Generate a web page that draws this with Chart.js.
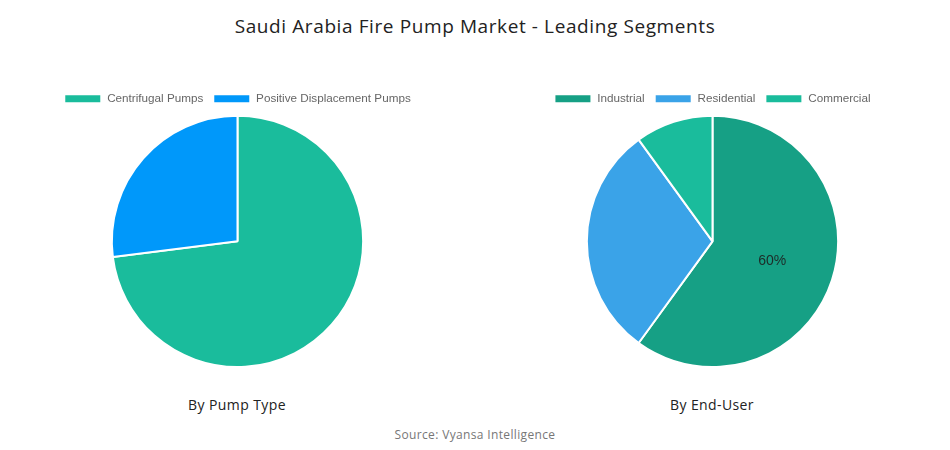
<!DOCTYPE html>
<html><head><meta charset="utf-8">
<script src="https://cdn.jsdelivr.net/npm/chart.js@4/dist/chart.umd.min.js"></script>
<style>
html,body{margin:0;padding:0;background:#fff;}
#wrap{position:relative;width:950px;height:450px;font-family:"Open Sans",sans-serif;}
.t{position:absolute;white-space:nowrap;transform:translateX(-50%);}
#title{left:475px;top:13px;font-size:19px;letter-spacing:0.6px;color:#222;}
.sub{top:395px;font-size:14px;letter-spacing:0.4px;color:#222;}
#src{left:475px;top:426px;font-size:12px;letter-spacing:0.35px;color:#777;}
.cv{position:absolute;top:83px;width:475px;height:285px;}
</style></head>
<body>
<div id="wrap">
  <div id="title" class="t">Saudi Arabia Fire Pump Market - Leading Segments</div>
  <div class="cv" style="left:0"><canvas id="c1"></canvas></div>
  <div class="cv" style="left:475px"><canvas id="c2"></canvas></div>
  <div class="t sub" style="left:237px">By Pump Type</div>
  <div class="t sub" style="left:712px">By End-User</div>
  <div id="src" class="t">Source: Vyansa Intelligence</div>
</div>
<script>
const pumpTypes = ["Centrifugal Pumps", "Positive Displacement Pumps"];
const pumpShare = [73, 27];
const pumpColors = ["#1ABC9C", "#0098FA"];

const endUsers = ["Industrial", "Residential", "Commercial"];
const endUserShare = [60, 30, 10];
const endUserColors = ["#16A085", "#3AA3E8", "#1ABC9C"];
const endUserLabelIdx = [0];

const labelPlugin = {
  id: "sliceLabels",
  afterDatasetsDraw(chart, args, opts) {
    const idx = opts.indices || [];
    const ctx = chart.ctx;
    const meta = chart.getDatasetMeta(0);
    const data = chart.data.datasets[0].data;
    ctx.save();
    ctx.font = "14px 'Liberation Sans', Arial, sans-serif";
    ctx.fillStyle = "#1d2b28";
    ctx.textAlign = "center";
    ctx.textBaseline = "middle";
    idx.forEach(i => {
      const p = meta.data[i].tooltipPosition();
      ctx.fillText(data[i] + "%", p.x, p.y);
    });
    ctx.restore();
  }
};

function makePie(id, labels, values, colors, labelIdx) {
  new Chart(document.getElementById(id), {
    type: "pie",
    data: { labels: labels, datasets: [{ data: values, backgroundColor: colors, borderColor: "#fff", borderWidth: 2 }] },
    plugins: [labelPlugin],
    options: {
      responsive: true, maintainAspectRatio: false, animation: false,
      layout: { padding: 0 },
      plugins: {
        legend: { position: "top", labels: { boxWidth: 37, boxHeight: 9, font: { size: 11.7, family: "'Liberation Sans', Arial, sans-serif" }, color: "#666", padding: 10 } },
        tooltip: { enabled: false },
        sliceLabels: { indices: labelIdx }
      }
    }
  });
}
makePie("c1", pumpTypes, pumpShare, pumpColors, []);
makePie("c2", endUsers, endUserShare, endUserColors, endUserLabelIdx);
</script>
</body></html>
